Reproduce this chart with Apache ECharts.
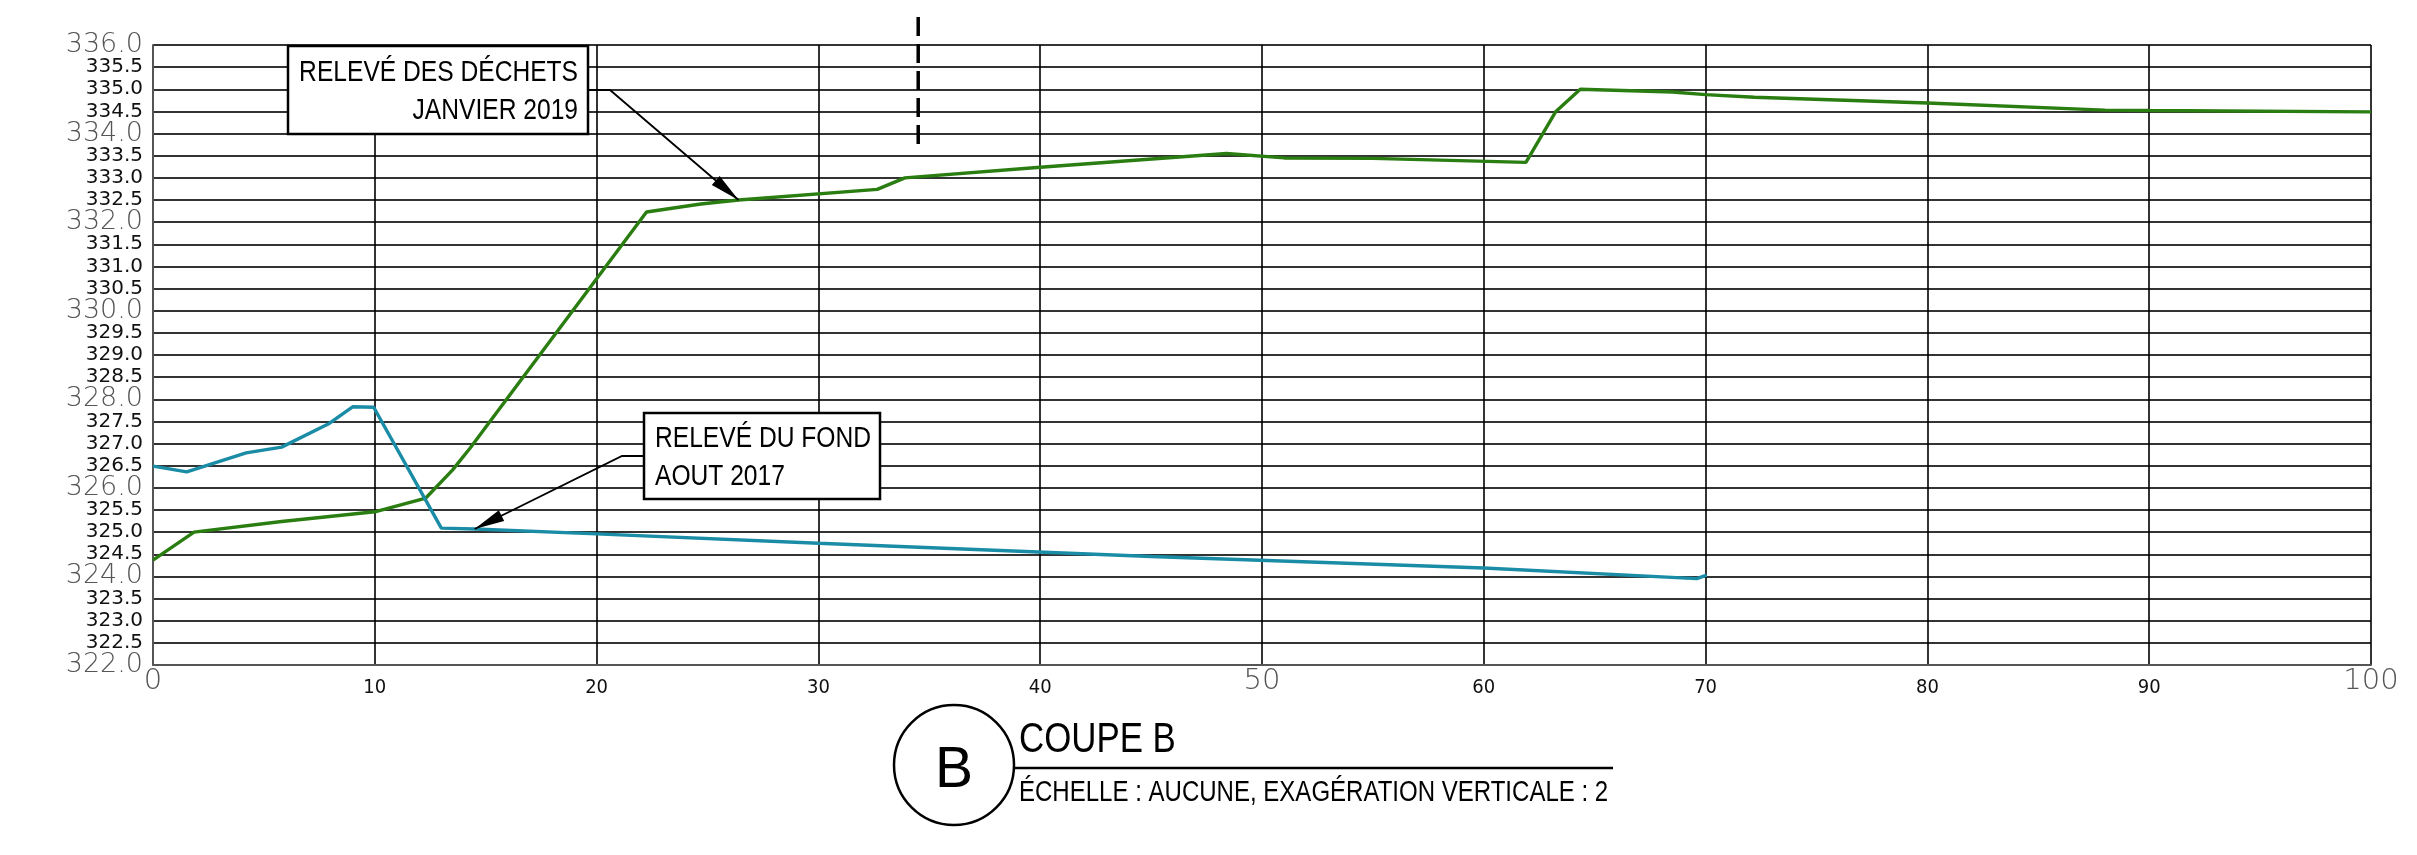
<!DOCTYPE html>
<html>
<head>
<meta charset="utf-8">
<script src="https://cdn.jsdelivr.net/npm/echarts@6/dist/echarts.min.js"></script>
<style>
html,body{margin:0;padding:0;background:#fff;}
#c{width:2417px;height:855px;}
</style>
</head>
<body>
<div id="c"></div>
<script>
// Relevé des déchets – janvier 2019 (distance m, élévation m)
const dechetsDist = [0, 1.85, 5.8, 10.0, 12.3, 13.5, 14.3, 22.25, 24.7, 26.4, 32.65, 33.9, 40, 48.4, 51.0, 55, 61.9, 63.25, 64.35, 68.5, 70, 72.2, 80, 88, 90, 100];
const dechetsElev = [324.37, 325.0, 325.24, 325.46, 325.77, 326.4, 326.9, 332.23, 332.41, 332.5, 332.74, 333.0, 333.24, 333.55, 333.45, 333.44, 333.35, 334.5, 335.0, 334.94, 334.88, 334.82, 334.69, 334.53, 334.52, 334.49];
// Relevé du fond – août 2017
const fondDist = [0, 1.52, 4.2, 5.8, 7.9, 9.0, 9.95, 13.0, 14.5, 20, 30, 45, 60, 69.6, 70.05];
const fondElev = [326.49, 326.36, 326.79, 326.92, 327.44, 327.83, 327.82, 325.09, 325.07, 324.96, 324.75, 324.45, 324.19, 323.95, 324.03];

const xMajorLabels = [0, 50, 100];
const yMajorStep = 2;      // large grey labels every 2 m
const yMinorStep = 0.5;    // small labels / grid every 0.5 m

const labelDechets = ['RELEVÉ DES DÉCHETS', 'JANVIER 2019'];
const labelFond = ['RELEVÉ DU FOND', 'AOUT 2017'];
const titleText = 'COUPE B';
const subtitleText = 'ÉCHELLE : AUCUNE, EXAGÉRATION VERTICALE : 2';
const circleText = 'B';
// annotation anchors in data units
const arrowDechetsTip = [26.4, 332.5];
const arrowFondTip = [14.5, 325.07];
const dashedMarker = {x: 34.5, y1: 336.63, y2: 333.72};

const zip = (a, b) => a.map((v, i) => [v, b[i]]);
const SANS = "'Liberation Sans', Arial, sans-serif";
const COND = "'DejaVu Sans Condensed', 'Liberation Sans', sans-serif";
const NARROW_SCALE = 0.82;
const isMajorY = v => Math.abs(v / yMajorStep - Math.round(v / yMajorStep)) < 1e-6;

const chart = echarts.init(document.getElementById('c'), null, {renderer: 'canvas'});
chart.setOption({
  animation: false,
  backgroundColor: '#ffffff',
  grid: {left: 153, right: 46, top: 45, bottom: 190},
  xAxis: {
    type: 'value', min: 0, max: 100, interval: 10,
    axisLine: {show: true, lineStyle: {color: '#555', width: 2}},
    axisTick: {show: false},
    splitLine: {show: true, lineStyle: {color: '#000', width: 1.6}},
    axisLabel: {
      margin: 2, showMinLabel: true, showMaxLabel: true, hideOverlap: false,
      formatter: v => xMajorLabels.includes(v) ? '{big|' + v + '}' : '{small|' + v + '}',
      rich: {
        big: {fontSize: 29, color: '#555', fontFamily: "'DejaVu Sans', sans-serif", fontWeight: 'lighter'},
        small: {fontSize: 20, color: '#111', fontFamily: COND, padding: [11, 0, 0, 0]}
      }
    }
  },
  yAxis: [{
    type: 'value', min: 322, max: 336, interval: yMinorStep, position: 'left',
    axisLine: {show: true, lineStyle: {color: '#555', width: 2}},
    axisTick: {show: false},
    splitLine: {show: true, lineStyle: {color: '#333', width: 2.2}},
    axisLabel: {
      margin: 10, showMinLabel: false, showMaxLabel: false, hideOverlap: false,
      formatter: v => isMajorY(v) ? '' : v.toFixed(1),
      fontSize: 20, color: '#111', fontFamily: "'DejaVu Sans', sans-serif"
    }
  }, {
    type: 'value', min: 322, max: 336, interval: yMajorStep, position: 'left', offset: 0,
    axisLine: {show: false}, axisTick: {show: false}, splitLine: {show: false},
    axisLabel: {
      margin: 10, showMinLabel: true, showMaxLabel: true,
      formatter: v => v.toFixed(1),
      fontSize: 27, color: '#555', fontFamily: "'DejaVu Sans', sans-serif", fontWeight: 'lighter'
    }
  }],
  series: [
    {name: 'Relevé des déchets', type: 'line', yAxisIndex: 0, data: zip(dechetsDist, dechetsElev), symbol: 'none',
     lineStyle: {color: '#2a7d10', width: 3.4}, z: 5},
    {name: 'Relevé du fond', type: 'line', yAxisIndex: 0, data: zip(fondDist, fondElev), symbol: 'none',
     lineStyle: {color: '#1a8ca6', width: 3.4}, z: 5}
  ]
});

function px(p) { return chart.convertToPixel({xAxisIndex: 0, yAxisIndex: 0}, p); }
function arrowHead(tip, from, len, half) {
  const dx = tip[0] - from[0], dy = tip[1] - from[1];
  const L = Math.hypot(dx, dy), ux = dx / L, uy = dy / L;
  const bx = tip[0] - ux * len, by = tip[1] - uy * len;
  return [[tip[0], tip[1]], [bx - uy * half, by + ux * half], [bx + uy * half, by - ux * half]];
}
function narrowText(x, y, text, size, align) {
  return {type: 'text', z: 96, x: x, y: y, scaleX: NARROW_SCALE, scaleY: 1,
    style: {x: 0, y: 0, text: text, align: align, verticalAlign: 'middle', font: size + 'px ' + SANS, fill: '#000'}};
}

const tipD = px(arrowDechetsTip);
const tipF = px(arrowFondTip);
const dTop = px([dashedMarker.x, dashedMarker.y1]);
const dBot = px([dashedMarker.x, dashedMarker.y2]);

const legD = [[588, 90], [610, 90], tipD];
const legF = [[644, 456], [622, 456], tipF];

const g = [];
// leader lines
g.push({type: 'polyline', z: 90, shape: {points: legD}, style: {stroke: '#000', lineWidth: 1.8, fill: null}});
g.push({type: 'polygon', z: 91, shape: {points: arrowHead(tipD, legD[1], 30, 6)}, style: {fill: '#000'}});
g.push({type: 'polyline', z: 90, shape: {points: legF}, style: {stroke: '#000', lineWidth: 1.8, fill: null}});
g.push({type: 'polygon', z: 91, shape: {points: arrowHead(tipF, legF[1], 30, 6)}, style: {fill: '#000'}});
// dashed marker
g.push({type: 'line', z: 90, shape: {x1: dTop[0], y1: dTop[1], x2: dBot[0], y2: dBot[1]},
        style: {stroke: '#000', lineWidth: 3.5, lineDash: [19, 8]}});
// box déchets
g.push({type: 'rect', z: 95, shape: {x: 288, y: 46, width: 300, height: 88}, style: {fill: '#fff', stroke: '#000', lineWidth: 2.5}});
g.push(narrowText(578, 73, labelDechets[0], 30, 'right'));
g.push(narrowText(578, 111, labelDechets[1], 30, 'right'));
// box fond
g.push({type: 'rect', z: 95, shape: {x: 644, y: 413, width: 236, height: 86}, style: {fill: '#fff', stroke: '#000', lineWidth: 2.5}});
g.push(narrowText(655, 439, labelFond[0], 30, 'left'));
g.push(narrowText(655, 477, labelFond[1], 30, 'left'));
// title block
g.push({type: 'circle', z: 95, shape: {cx: 954, cy: 765, r: 60}, style: {fill: '#fff', stroke: '#000', lineWidth: 2.5}});
g.push({type: 'text', z: 96, style: {x: 954, y: 771, text: circleText, align: 'center', verticalAlign: 'middle', font: '57px ' + SANS, fill: '#000'}});
g.push(narrowText(1019, 740, titleText, 42.5, 'left'));
g.push({type: 'line', z: 95, shape: {x1: 1013, y1: 768, x2: 1613, y2: 768}, style: {stroke: '#000', lineWidth: 2.5}});
g.push(narrowText(1019, 793, subtitleText, 29.3, 'left'));

chart.setOption({graphic: g});
</script>
</body>
</html>
